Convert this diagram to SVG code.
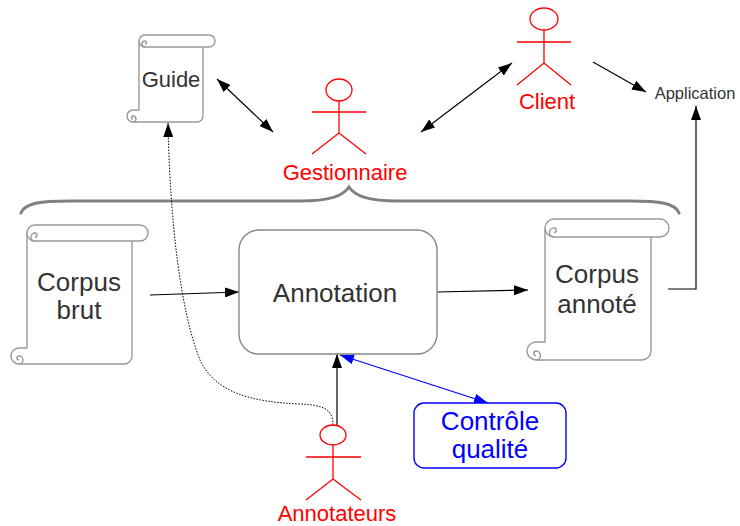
<svg xmlns="http://www.w3.org/2000/svg" width="740" height="526" viewBox="0 0 740 526">
<style>
.scroll{fill:#fff;stroke:#999;stroke-width:1.4;stroke-linejoin:round}
.curl{fill:none;stroke:#999;stroke-width:1.4}
.lbl{font-family:"Liberation Sans",Arial,sans-serif;fill:#333;text-anchor:middle}
.actor{fill:none;stroke:#f00;stroke-width:1.3}
.actorTxt{font-family:"Liberation Sans",Arial,sans-serif;fill:#f00;font-size:22px;text-anchor:middle}
.conn{fill:none;stroke:#000;stroke-width:1.2}
</style>
<defs>
<marker id="ah" markerUnits="userSpaceOnUse" markerWidth="14" markerHeight="10" refX="14" refY="5" orient="auto-start-reverse" viewBox="0 0 14 10">
<path d="M0,0 L14,5 L0,10 z" fill="#000"/>
</marker>
<marker id="ahb" markerUnits="userSpaceOnUse" markerWidth="14" markerHeight="10" refX="14" refY="5" orient="auto-start-reverse" viewBox="0 0 14 10">
<path d="M0,0 L14,5 L0,10 z" fill="#00f"/>
</marker>
</defs>

<g id="brace">
<path d="M21,213 C25,203 40,201 70,201 L300,201 C330,201 343,196 349,187 C355,196 368,201 398,201 L630,201 C660,201 675,203 679,213" fill="none" stroke="#808080" stroke-width="3" stroke-linecap="round"/>
</g>

<g id="connectors">
<path class="conn" d="M217,79 L273,132" marker-start="url(#ah)" marker-end="url(#ah)"/>
<path class="conn" d="M421,132 L512,63" marker-start="url(#ah)" marker-end="url(#ah)"/>
<path class="conn" d="M593,62 L646,92" marker-end="url(#ah)"/>
<path class="conn" d="M668,289 H696 V106" marker-end="url(#ah)"/>
<path class="conn" d="M150,295 L239,292" marker-end="url(#ah)"/>
<path class="conn" d="M437,292 L528,290" marker-end="url(#ah)"/>
<path class="conn" d="M337,425 V354" marker-end="url(#ah)"/>
<path d="M340,355 L488,403" fill="none" stroke="#00f" stroke-width="1.2" marker-start="url(#ahb)" marker-end="url(#ahb)"/>
<path d="M333,425 C333,410 325,405 300,404 C250,402 215,392 200,360 C180,310 170,220 168,123" fill="none" stroke="#000" stroke-width="1" stroke-dasharray="1.5 1.5" marker-end="url(#ah)"/>
</g>

<g id="guide">
<path class="scroll" d="M139,41 V110 H133 A6 6 0 0 0 133,122 H197 A6 6 0 0 0 203,116 V47"/>
<path class="scroll" d="M145,35 H209 A6 6 0 0 1 209,47 H145 A6 6 0 0 1 145,35 Z"/>
<path class="curl" d="M145,47 A3 3 0 0 1 145,41 A1.5 1.5 0 0 1 145,44"/>
<path class="curl" d="M133,122 A3 3 0 0 0 133,116 A1.5 1.5 0 0 0 133,119"/>
<text class="lbl" x="171" y="87" font-size="22">Guide</text>
</g>

<g id="corpus-brut">
<path class="scroll" d="M27,233 V348 H19 A8 8 0 0 0 19,364 H124 A8 8 0 0 0 132,356 V241"/>
<path class="scroll" d="M35,225 H140 A8 8 0 0 1 140,241 H35 A8 8 0 0 1 35,225 Z"/>
<path class="curl" d="M35,241 A4 4 0 0 1 35,233 A2 2 0 0 1 35,237"/>
<path class="curl" d="M19,364 A4 4 0 0 0 19,356 A2 2 0 0 0 19,360"/>
<text class="lbl" x="79" y="291" font-size="26">Corpus</text>
<text class="lbl" x="79" y="319" font-size="26">brut</text>
</g>

<g id="corpus-annote">
<path class="scroll" d="M545,228 V342 H536 A9 9 0 0 0 536,360 H642 A9 9 0 0 0 651,351 V237"/>
<path class="scroll" d="M554,219 H660 A9 9 0 0 1 660,237 H554 A9 9 0 0 1 554,219 Z"/>
<path class="curl" d="M554,237 A4.5 4.5 0 0 1 554,228 A2.25 2.25 0 0 1 554,232.5"/>
<path class="curl" d="M536,360 A4.5 4.5 0 0 0 536,351 A2.25 2.25 0 0 0 536,355.5"/>
<text class="lbl" x="597" y="283" font-size="26">Corpus</text>
<text class="lbl" x="597" y="313" font-size="26">annoté</text>
</g>

<g id="annotation">
<rect x="239" y="230" width="198" height="124" rx="20" fill="#fff" stroke="#888" stroke-width="1.4"/>
<text class="lbl" x="335" y="302" font-size="26">Annotation</text>
</g>

<g id="controle-qualite">
<rect x="414" y="403" width="152" height="65" rx="10" fill="#fff" stroke="#00f" stroke-width="1.4"/>
<text x="490" y="430" font-family="Liberation Sans,Arial,sans-serif" font-size="26" fill="#00f" text-anchor="middle">Contrôle</text>
<text x="490" y="458" font-family="Liberation Sans,Arial,sans-serif" font-size="26" fill="#00f" text-anchor="middle">qualité</text>
</g>

<g id="application">
<text class="lbl" x="695" y="99" font-size="16.5">Application</text>
</g>

<g id="gestionnaire">
<ellipse class="actor" cx="339" cy="90" rx="13" ry="11"/>
<path class="actor" d="M339,101 V133 M312,112 H366 M312,154 L339,133 L366,154"/>
<text class="actorTxt" x="345" y="180">Gestionnaire</text>
</g>

<g id="client">
<ellipse class="actor" cx="544" cy="19" rx="14" ry="11"/>
<path class="actor" d="M544,30 V63 M517,42 H571 M517,85 L544,63 L571,85"/>
<text class="actorTxt" x="547" y="109">Client</text>
</g>

<g id="annotateurs">
<ellipse class="actor" cx="333" cy="435" rx="13" ry="10"/>
<path class="actor" d="M333,445 V479 M306,457 H361 M306,500 L333,479 L361,500"/>
<text class="actorTxt" x="337" y="521">Annotateurs</text>
</g>
</svg>
